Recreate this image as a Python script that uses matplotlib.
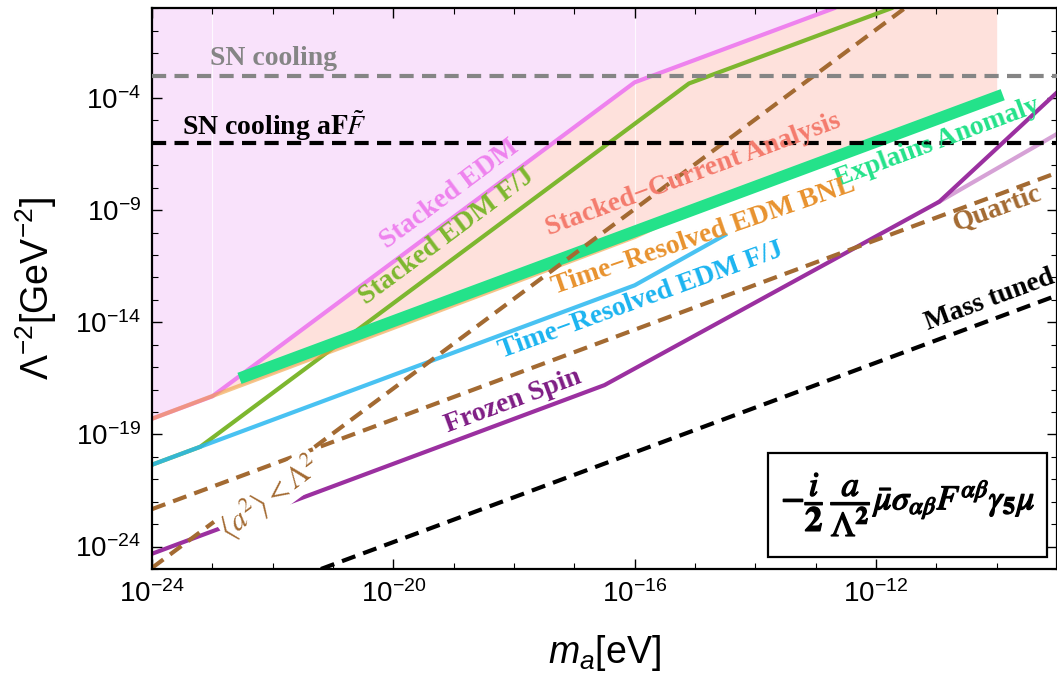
import numpy as np
import matplotlib.pyplot as plt
import matplotlib.patheffects as pe
from matplotlib.patches import Rectangle
from matplotlib.ticker import NullFormatter

plt.rcParams['font.family'] = 'Liberation Sans'
plt.rcParams['mathtext.fontset'] = 'custom'
plt.rcParams['mathtext.rm'] = 'Liberation Sans'
plt.rcParams['mathtext.it'] = 'Liberation Sans:italic'
plt.rcParams['mathtext.bf'] = 'Liberation Sans:bold'

# all values are log10(m_a / eV) and log10(Lambda^-2 / GeV^-2)
stacked_x = [-24, -23, -16, -12.7]           # Stacked EDM
stacked_y = [-18.3, -17.3, -3.3, 0]
stackedFJ_x = [-24, -23.2, -15.1, -11.75]    # Stacked EDM F/J
stackedFJ_y = [-20.35, -19.55, -3.35, 0]
bnl_x = [-24, -16, -15]                      # Time-Resolved EDM BNL
bnl_y = [-18.3, -10.2, -8.95]
trFJ_x = [-24, -16, -14.5]                   # Time-Resolved EDM F/J
trFJ_y = [-20.35, -12.35, -10.1]
anomaly_x = [-22.55, -9.9]                   # Explains Anomaly
anomaly_y = [-16.5, -3.85]
current_x = [-24, -16, -15, -10]             # Stacked-Current Analysis (lower edge)
current_y = [-18.3, -10.2, -8.95, -3.95]
frozen_x = [-24, -16.5, -10.95, -9]          # Frozen Spin
frozen_y = [-24.32, -16.8, -8.62, -3.75]
frozen2_x = [-10.95, -9]                     # Frozen Spin, other branch
frozen2_y = [-8.62, -5.6]
avg_x = [-24, -11.525]                       # <a^2> < Lambda^2
avg_y = [-24.95, 0]
quartic_x = [-24, -9]
quartic_y = [-22.33, -7.33]
tuned_x = [-21.2, -9]                        # Mass tuned
tuned_y = [-25, -12.8]
sn_y = -3.0                                  # SN cooling
snff_y = -6.0                                # SN cooling aFF~

xticks = [-24, -20, -16, -12]
yticks = [-24, -19, -14, -9, -4]


def p(a):
    return 10.0 ** np.array(a, dtype=float)


fig = plt.figure(figsize=(10.57, 6.77), dpi=100)
ax = fig.add_axes([0.1438, 0.1595, 0.8562, 0.8282])
ax.set_xscale('log')
ax.set_yscale('log')

# shaded regions
ax.fill_between(p(current_x), p(current_y), 1.0, color='#FEE1DC', lw=0, zorder=0)
ax.fill_between(p(stacked_x), p(stacked_y), 1.0, color='#F9E2FB', lw=0, zorder=0.5)
ax.plot([1e-23, 1e-23], [10 ** stacked_y[1], 1], color='white', lw=0.8, alpha=0.8, zorder=0.6)
ax.plot([1e-16, 1e-16], [10 ** bnl_y[1], 1], color='white', lw=0.8, alpha=0.8, zorder=0.6)

lw = 3
ax.plot(p(stacked_x), p(stacked_y), color='#EE82EE', lw=lw, zorder=2)
ax.plot(p(bnl_x), p(bnl_y), color='#F0A040', alpha=0.6, lw=lw, zorder=2.1)
ax.plot(p(stackedFJ_x), p(stackedFJ_y), color='#7DB72F', lw=lw, zorder=2)
ax.plot(p(trFJ_x), p(trFJ_y), color='#29B8F0', alpha=0.85, lw=lw, zorder=2.1)
ax.plot(p(anomaly_x), p(anomaly_y), color='#24E28A', lw=8.5, solid_capstyle='butt', zorder=2.2)
ax.plot(p(frozen2_x), p(frozen2_y), color='#D6A2D6', lw=lw, zorder=2)
ax.plot(p(frozen_x), p(frozen_y), color='#9B30A0', lw=lw, zorder=2.1)
ax.plot(p(quartic_x), p(quartic_y), color='#A36A32', lw=lw, dashes=(3.4, 2), zorder=2.5)
ax.plot(p(avg_x), p(avg_y), color='#A36A32', lw=lw, dashes=(3.4, 2), zorder=2.5)
ax.plot(p(tuned_x), p(tuned_y), color='black', lw=lw, dashes=(3.4, 2), zorder=2.5)
ax.axhline(10 ** sn_y, color='#858585', lw=lw, dashes=(3.4, 2), zorder=4)
ax.axhline(10 ** snff_y, color='black', lw=lw, dashes=(3.4, 2), zorder=4)

# labels on the curves
lab = dict(family='Liberation Serif', weight='bold', fontsize=20,
           ha='center', va='center', rotation_mode='anchor', zorder=5)
ax.text(10 ** -19.06, 10 ** -8.28, 'Stacked EDM', color='#EE82EE', rotation=36.7, **lab)
ax.text(10 ** -19.11, 10 ** -10.19, 'Stacked EDM F/J', color='#7DB72F', rotation=36.7, **lab)
ax.text(10 ** -15.03, 10 ** -7.43, 'Stacked\u2212Current Analysis', color='#F47B6D', rotation=20.4, **lab)
ax.text(10 ** -10.98, 10 ** -6.0, 'Explains Anomaly', color='#24E28A', rotation=20.4, **lab)
ax.text(10 ** -14.85, 10 ** -10.15, 'Time\u2212Resolved EDM BNL', color='#E8922E', rotation=19, **lab)
ax.text(10 ** -15.89, 10 ** -13.04, 'Time\u2212Resolved EDM F/J', color='#1BB4F0', rotation=20, **lab)
ax.text(10 ** -18.01, 10 ** -17.5, 'Frozen Spin', color='#7F1D85', rotation=20.4, **lab)
ax.text(10 ** -9.99, 10 ** -8.95, 'Quartic', color='#A36A32', rotation=20.4, **lab)
ax.text(10 ** -10.12, 10 ** -13.0, 'Mass tuned', color='black', rotation=20.4, **lab)
ax.text(10 ** -22.05, 10 ** -21.8, r'$\langle a^2\rangle<\Lambda^2$', color='#A36A32',
        rotation=36.7, rotation_mode='anchor', ha='center', va='center', fontsize=22,
        math_fontfamily='stix', zorder=5,
        bbox=dict(facecolor='white', edgecolor='none', pad=0.5))
ax.text(10 ** -23.04, 10 ** -2.53, 'SN cooling', color='#858585', family='Liberation Serif',
        weight='bold', fontsize=20, ha='left', va='baseline', zorder=5)
ax.text(10 ** -23.5, 10 ** -5.65, r'SN cooling a$\mathbf{F}\tilde{F}$', color='black',
        family='Liberation Serif', weight='bold', fontsize=20, ha='left', va='baseline',
        math_fontfamily='stix', zorder=5)

# operator box
ax.add_patch(Rectangle((0.681, 0.021), 0.308, 0.186, transform=ax.transAxes,
                       facecolor='white', edgecolor='black', lw=1.6, zorder=6))
ax.text(0.836, 0.114,
        r'$-\dfrac{i}{\mathbf{2}}\,\dfrac{a}{\Lambda^{\mathbf{2}}}\bar{\mu}\sigma_{\alpha\beta}F^{\alpha\beta}\gamma_{\mathbf{5}}\mu$',
        transform=ax.transAxes, ha='center', va='center', fontsize=25,
        math_fontfamily='stix', zorder=7,
        path_effects=[pe.withStroke(linewidth=1.0, foreground='black')])

ax.set_xlim(1e-24, 1e-9)
ax.set_ylim(1e-25, 1)
ax.set_xticks(p(xticks))
ax.set_xticklabels([r'$10^{%d}$' % k for k in xticks])
ax.set_xticks(p(range(-24, -8)), minor=True)
ax.set_yticks(p(yticks))
ax.set_yticklabels([r'$10^{%d}$' % k for k in yticks])
ax.set_yticks(p(range(-25, 1)), minor=True)
ax.xaxis.set_minor_formatter(NullFormatter())
ax.yaxis.set_minor_formatter(NullFormatter())
ax.tick_params(which='major', direction='in', length=7, width=1, top=True, right=True,
               labelsize=20, pad=8)
ax.tick_params(which='minor', direction='in', length=4, width=0.8, top=True, right=True)
for s in ax.spines.values():
    s.set_linewidth(1.6)

ax.set_xlabel(r'$m_a$[eV]', fontsize=27, labelpad=18)
ax.set_ylabel(r'$\Lambda^{-2}$[GeV$^{-2}$]', fontsize=27, labelpad=12)

fig.savefig('out.png', dpi=100)
